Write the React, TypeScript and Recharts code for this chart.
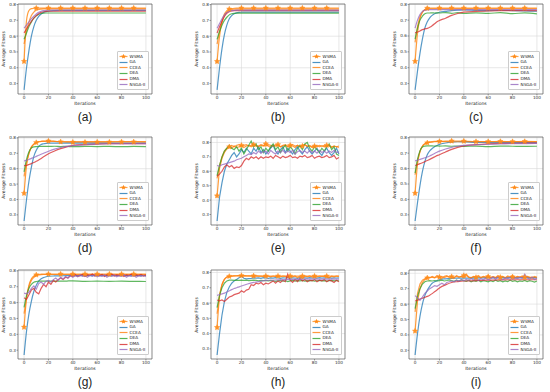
import React from 'react';
import { LineChart, Line, XAxis, YAxis, CartesianGrid, ReferenceArea } from 'recharts';

// sparse grid for smooth curves, dense grid for noisy ones
const XS = [0, 2, 4, 6, 8, 10, 12, 14, 16, 18, 20, 25, 30, 35, 40, 50, 60, 70, 80, 90, 100];
const XN = [
  0, 2, 4, 6, 8, 10, 12, 14, 16, 18,
  20, 22, 24, 26, 28, 30, 32, 34, 36, 38,
  40, 42, 44, 46, 48, 50, 52, 54, 56, 58,
  60, 62, 64, 66, 68, 70, 72, 74, 76, 78,
  80, 82, 84, 86, 88, 90, 92, 94, 96, 98,
  100,
];

const SERIES = ['WSMA', 'GA', 'CCEA', 'DEA', 'DMA', 'NSGA-II'];
const COLORS = ['#ff8c1a', '#1f77b4', '#ff7f0e', '#2ca02c', '#d62728', '#9467bd'];
const X_TICKS = [0, 20, 40, 60, 80, 100];
const Y_TICKS = [0.3, 0.4, 0.5, 0.6, 0.7, 0.8];

// (a)
const A_WSMA = [0.44, 0.70, 0.762, 0.774, 0.776, 0.777, 0.777, 0.777, 0.777, 0.777, 0.777, 0.777, 0.777, 0.777, 0.777, 0.777, 0.777, 0.777, 0.777, 0.777, 0.777];
const A_GA = [0.26, 0.40, 0.51, 0.60, 0.66, 0.70, 0.725, 0.74, 0.75, 0.755, 0.758, 0.761, 0.762, 0.762, 0.762, 0.762, 0.762, 0.762, 0.762, 0.762, 0.762];
const A_CCEA = [0.55, 0.63, 0.69, 0.73, 0.752, 0.764, 0.769, 0.771, 0.772, 0.772, 0.772, 0.772, 0.772, 0.772, 0.772, 0.772, 0.772, 0.772, 0.772, 0.772, 0.772];
const A_DEA = [0.58, 0.62, 0.66, 0.69, 0.713, 0.728, 0.738, 0.743, 0.745, 0.746, 0.746, 0.746, 0.746, 0.746, 0.746, 0.746, 0.746, 0.746, 0.746, 0.746, 0.746];
const A_DMA = [0.62, 0.645, 0.67, 0.693, 0.713, 0.73, 0.742, 0.75, 0.754, 0.756, 0.757, 0.758, 0.758, 0.758, 0.758, 0.758, 0.758, 0.758, 0.758, 0.758, 0.758];
const A_NSGA = [0.65, 0.67, 0.69, 0.71, 0.726, 0.74, 0.75, 0.757, 0.761, 0.763, 0.764, 0.765, 0.765, 0.765, 0.765, 0.765, 0.765, 0.765, 0.765, 0.765, 0.765];

// (b)
const B_WSMA = [0.44, 0.60, 0.69, 0.74, 0.762, 0.772, 0.775, 0.777, 0.778, 0.778, 0.778, 0.778, 0.778, 0.778, 0.778, 0.778, 0.778, 0.778, 0.778, 0.778, 0.778];
const B_GA = [0.26, 0.40, 0.52, 0.61, 0.67, 0.71, 0.73, 0.742, 0.748, 0.751, 0.752, 0.753, 0.753, 0.753, 0.753, 0.753, 0.753, 0.753, 0.753, 0.753, 0.753];
const B_CCEA = [0.55, 0.63, 0.69, 0.73, 0.752, 0.764, 0.769, 0.771, 0.772, 0.772, 0.772, 0.772, 0.772, 0.772, 0.772, 0.772, 0.772, 0.772, 0.772, 0.772, 0.772];
const B_DEA = [0.58, 0.63, 0.67, 0.70, 0.72, 0.735, 0.742, 0.745, 0.746, 0.746, 0.746, 0.746, 0.746, 0.746, 0.746, 0.746, 0.746, 0.746, 0.746, 0.746, 0.746];
const B_DMA = [0.62, 0.66, 0.695, 0.725, 0.745, 0.755, 0.76, 0.762, 0.762, 0.762, 0.762, 0.762, 0.762, 0.762, 0.762, 0.762, 0.762, 0.762, 0.762, 0.762, 0.762];
const B_NSGA = [0.65, 0.68, 0.71, 0.735, 0.75, 0.758, 0.762, 0.764, 0.765, 0.765, 0.765, 0.765, 0.765, 0.765, 0.765, 0.765, 0.765, 0.765, 0.765, 0.765, 0.765];

// (c)
const C_WSMA = [0.44, 0.62, 0.71, 0.75, 0.768, 0.775, 0.776, 0.776, 0.776, 0.776, 0.776, 0.776, 0.776, 0.776, 0.776, 0.776, 0.776, 0.776, 0.776, 0.776, 0.776];
const C_GA = [0.26, 0.38, 0.49, 0.58, 0.65, 0.69, 0.715, 0.73, 0.74, 0.745, 0.75, 0.755, 0.76, 0.763, 0.765, 0.762, 0.76, 0.762, 0.76, 0.758, 0.756];
const C_CCEA = [0.56, 0.66, 0.72, 0.75, 0.765, 0.77, 0.772, 0.772, 0.772, 0.772, 0.772, 0.772, 0.772, 0.772, 0.772, 0.772, 0.772, 0.772, 0.772, 0.772, 0.772];
const C_DEA = [0.58, 0.65, 0.70, 0.725, 0.74, 0.745, 0.745, 0.746, 0.745, 0.746, 0.745, 0.748, 0.743, 0.747, 0.742, 0.746, 0.743, 0.747, 0.741, 0.746, 0.74];
const C_DMA = [0.62, 0.625, 0.632, 0.64, 0.645, 0.648, 0.655, 0.665, 0.677, 0.69, 0.698, 0.712, 0.73, 0.742, 0.75, 0.755, 0.758, 0.76, 0.76, 0.76, 0.76];
const C_NSGA = [0.65, 0.70, 0.735, 0.755, 0.762, 0.765, 0.766, 0.766, 0.766, 0.766, 0.766, 0.766, 0.766, 0.766, 0.766, 0.766, 0.766, 0.766, 0.766, 0.766, 0.766];

// (d)
const D_WSMA = [0.44, 0.62, 0.70, 0.74, 0.76, 0.77, 0.775, 0.778, 0.779, 0.78, 0.78, 0.778, 0.775, 0.773, 0.772, 0.772, 0.773, 0.773, 0.774, 0.774, 0.773];
const D_GA = [0.26, 0.40, 0.52, 0.61, 0.68, 0.72, 0.745, 0.757, 0.762, 0.765, 0.766, 0.766, 0.766, 0.766, 0.766, 0.766, 0.766, 0.766, 0.766, 0.766, 0.766];
const D_CCEA = [0.55, 0.64, 0.70, 0.74, 0.76, 0.77, 0.775, 0.777, 0.778, 0.778, 0.778, 0.777, 0.776, 0.776, 0.776, 0.776, 0.776, 0.776, 0.776, 0.776, 0.776];
const D_DEA = [0.58, 0.66, 0.71, 0.735, 0.742, 0.744, 0.745, 0.745, 0.745, 0.745, 0.745, 0.746, 0.744, 0.745, 0.743, 0.745, 0.744, 0.745, 0.743, 0.745, 0.744];
const D_DMA = [0.62, 0.622, 0.627, 0.633, 0.64, 0.648, 0.657, 0.667, 0.677, 0.687, 0.697, 0.715, 0.73, 0.742, 0.752, 0.757, 0.76, 0.762, 0.762, 0.763, 0.762];
const D_NSGA = [0.65, 0.655, 0.66, 0.667, 0.673, 0.68, 0.687, 0.694, 0.70, 0.707, 0.713, 0.727, 0.738, 0.745, 0.75, 0.756, 0.76, 0.762, 0.763, 0.763, 0.763];

// (e)
const E_WSMA = [
  0.43, 0.62, 0.69, 0.73, 0.755, 0.77, 0.76, 0.775, 0.765, 0.77,
  0.78, 0.765, 0.775, 0.78, 0.77, 0.785, 0.775, 0.77, 0.78, 0.775,
  0.79, 0.775, 0.765, 0.78, 0.775, 0.785, 0.77, 0.775, 0.78, 0.77,
  0.78, 0.775, 0.765, 0.78, 0.77, 0.775, 0.785, 0.77, 0.775, 0.765,
  0.775, 0.77, 0.78, 0.775, 0.77, 0.78, 0.775, 0.765, 0.775, 0.77,
  0.775,
];
const E_GA = [
  0.255, 0.42, 0.52, 0.60, 0.65, 0.68, 0.71, 0.73, 0.70, 0.72,
  0.75, 0.73, 0.76, 0.74, 0.72, 0.76, 0.74, 0.77, 0.73, 0.75,
  0.72, 0.74, 0.76, 0.78, 0.74, 0.72, 0.75, 0.77, 0.73, 0.76,
  0.74, 0.72, 0.75, 0.77, 0.74, 0.72, 0.75, 0.77, 0.74, 0.72,
  0.74, 0.76, 0.73, 0.71, 0.74, 0.76, 0.73, 0.71, 0.73, 0.76,
  0.72,
];
const E_CCEA = [
  0.55, 0.64, 0.70, 0.74, 0.76, 0.77, 0.78, 0.77, 0.78, 0.785,
  0.775, 0.78, 0.785, 0.775, 0.78, 0.785, 0.78, 0.775, 0.785, 0.78,
  0.775, 0.785, 0.78, 0.775, 0.785, 0.78, 0.77, 0.78, 0.785, 0.775,
  0.78, 0.785, 0.775, 0.78, 0.77, 0.78, 0.785, 0.775, 0.78, 0.77,
  0.775, 0.78, 0.77, 0.775, 0.78, 0.775, 0.78, 0.77, 0.775, 0.77,
  0.765,
];
const E_DEA = [
  0.57, 0.64, 0.70, 0.74, 0.76, 0.78, 0.76, 0.75, 0.77, 0.74,
  0.76, 0.72, 0.75, 0.78, 0.81, 0.77, 0.79, 0.75, 0.77, 0.73,
  0.76, 0.74, 0.77, 0.79, 0.75, 0.77, 0.73, 0.76, 0.78, 0.74,
  0.77, 0.75, 0.72, 0.76, 0.78, 0.75, 0.79, 0.80, 0.76, 0.74,
  0.77, 0.75, 0.73, 0.76, 0.74, 0.77, 0.79, 0.75, 0.77, 0.72,
  0.71,
];
const E_DMA = [
  0.565, 0.58, 0.60, 0.63, 0.645, 0.63, 0.64, 0.62, 0.63, 0.625,
  0.64, 0.67, 0.69, 0.68, 0.70, 0.69, 0.70, 0.685, 0.70, 0.69,
  0.70, 0.695, 0.705, 0.69, 0.71, 0.70, 0.69, 0.705, 0.695, 0.70,
  0.71, 0.695, 0.70, 0.69, 0.705, 0.70, 0.71, 0.695, 0.70, 0.71,
  0.69, 0.70, 0.705, 0.695, 0.70, 0.71, 0.695, 0.70, 0.71, 0.685,
  0.695,
];
const E_NSGA = [
  0.64, 0.635, 0.645, 0.65, 0.655, 0.66, 0.665, 0.67, 0.68, 0.685,
  0.69, 0.70, 0.71, 0.72, 0.715, 0.73, 0.72, 0.74, 0.725, 0.735,
  0.74, 0.72, 0.745, 0.73, 0.72, 0.74, 0.73, 0.745, 0.725, 0.74,
  0.73, 0.745, 0.72, 0.735, 0.745, 0.73, 0.74, 0.725, 0.745, 0.73,
  0.74, 0.725, 0.745, 0.73, 0.74, 0.725, 0.74, 0.73, 0.745, 0.73,
  0.735,
];

// (f)
const F_WSMA = [0.44, 0.63, 0.71, 0.745, 0.76, 0.767, 0.77, 0.772, 0.774, 0.775, 0.776, 0.778, 0.779, 0.779, 0.778, 0.775, 0.775, 0.776, 0.775, 0.776, 0.775];
const F_GA = [0.26, 0.38, 0.49, 0.58, 0.645, 0.69, 0.715, 0.73, 0.742, 0.75, 0.757, 0.766, 0.772, 0.774, 0.773, 0.77, 0.769, 0.768, 0.768, 0.768, 0.768];
const F_CCEA = [0.56, 0.65, 0.71, 0.745, 0.762, 0.77, 0.773, 0.775, 0.776, 0.776, 0.776, 0.775, 0.774, 0.774, 0.774, 0.774, 0.774, 0.774, 0.774, 0.774, 0.774];
const F_DEA = [0.57, 0.66, 0.715, 0.74, 0.746, 0.747, 0.747, 0.747, 0.746, 0.747, 0.746, 0.747, 0.745, 0.746, 0.744, 0.746, 0.743, 0.746, 0.745, 0.744, 0.745];
const F_DMA = [0.62, 0.625, 0.632, 0.638, 0.645, 0.652, 0.66, 0.668, 0.676, 0.684, 0.69, 0.708, 0.725, 0.738, 0.747, 0.755, 0.76, 0.763, 0.764, 0.765, 0.765];
const F_NSGA = [0.65, 0.655, 0.66, 0.665, 0.67, 0.675, 0.682, 0.69, 0.698, 0.706, 0.713, 0.727, 0.738, 0.745, 0.75, 0.755, 0.758, 0.76, 0.762, 0.762, 0.763];

// (g)
const G_WSMA = [0.445, 0.63, 0.71, 0.75, 0.768, 0.775, 0.778, 0.779, 0.78, 0.78, 0.78, 0.78, 0.78, 0.78, 0.78, 0.78, 0.78, 0.78, 0.78, 0.78, 0.78];
const G_GA = [0.27, 0.42, 0.53, 0.61, 0.67, 0.71, 0.735, 0.75, 0.758, 0.763, 0.766, 0.768, 0.769, 0.77, 0.77, 0.77, 0.77, 0.77, 0.77, 0.77, 0.77];
const G_CCEA = [0.53, 0.63, 0.70, 0.74, 0.76, 0.77, 0.774, 0.776, 0.777, 0.777, 0.777, 0.777, 0.777, 0.777, 0.777, 0.777, 0.777, 0.777, 0.777, 0.777, 0.777];
const G_DEA = [0.57, 0.645, 0.69, 0.715, 0.728, 0.733, 0.735, 0.735, 0.735, 0.735, 0.735, 0.735, 0.735, 0.736, 0.737, 0.734, 0.735, 0.734, 0.735, 0.734, 0.733];
const G_DMA = [
  0.63, 0.62, 0.65, 0.68, 0.69, 0.665, 0.655, 0.69, 0.715, 0.70,
  0.73, 0.715, 0.74, 0.73, 0.745, 0.755, 0.745, 0.76, 0.755, 0.77,
  0.765, 0.775, 0.765, 0.77, 0.778, 0.765, 0.775, 0.77, 0.78, 0.768,
  0.775, 0.77, 0.778, 0.765, 0.775, 0.77, 0.78, 0.768, 0.775, 0.77,
  0.778, 0.765, 0.775, 0.77, 0.78, 0.768, 0.775, 0.77, 0.778, 0.768,
  0.775,
];
const G_NSGA = [
  0.66, 0.655, 0.665, 0.69, 0.705, 0.685, 0.72, 0.73, 0.715, 0.735,
  0.74, 0.73, 0.745, 0.755, 0.74, 0.76, 0.75, 0.765, 0.755, 0.77,
  0.76, 0.77, 0.762, 0.775, 0.765, 0.77, 0.76, 0.772, 0.765, 0.775,
  0.762, 0.77, 0.765, 0.775, 0.76, 0.77, 0.765, 0.775, 0.762, 0.77,
  0.765, 0.775, 0.76, 0.77, 0.765, 0.772, 0.76, 0.77, 0.765, 0.772,
  0.765,
];

// (h)
const H_WSMA = [0.44, 0.64, 0.72, 0.755, 0.77, 0.775, 0.777, 0.778, 0.779, 0.78, 0.78, 0.779, 0.778, 0.777, 0.777, 0.777, 0.777, 0.777, 0.777, 0.777, 0.777];
const H_GA = [
  0.26, 0.40, 0.52, 0.61, 0.67, 0.705, 0.73, 0.745, 0.755, 0.765,
  0.775, 0.762, 0.758, 0.76, 0.762, 0.765, 0.763, 0.765, 0.762, 0.766,
  0.764, 0.762, 0.765, 0.763, 0.766, 0.764, 0.762, 0.765, 0.764, 0.766,
  0.763, 0.765, 0.764, 0.762, 0.766, 0.764, 0.765, 0.763, 0.766, 0.764,
  0.765, 0.763, 0.766, 0.764, 0.765, 0.764, 0.766, 0.763, 0.765, 0.764,
  0.765,
];
const H_CCEA = [
  0.53, 0.65, 0.72, 0.755, 0.77, 0.775, 0.777, 0.778, 0.778, 0.778,
  0.777, 0.778, 0.776, 0.778, 0.777, 0.775, 0.778, 0.776, 0.777, 0.775,
  0.778, 0.776, 0.772, 0.777, 0.774, 0.776, 0.772, 0.777, 0.775, 0.768,
  0.776, 0.772, 0.777, 0.765, 0.775, 0.76, 0.777, 0.772, 0.778, 0.77,
  0.776, 0.772, 0.777, 0.775, 0.776, 0.773, 0.765, 0.776, 0.772, 0.777,
  0.775,
];
const H_DEA = [
  0.57, 0.65, 0.70, 0.73, 0.745, 0.75, 0.75, 0.748, 0.75, 0.749,
  0.75, 0.748, 0.75, 0.747, 0.749, 0.75, 0.748, 0.746, 0.749, 0.747,
  0.748, 0.745, 0.748, 0.746, 0.742, 0.745, 0.748, 0.743, 0.746, 0.74,
  0.745, 0.748, 0.744, 0.747, 0.745, 0.748, 0.744, 0.747, 0.745, 0.748,
  0.744, 0.746, 0.748, 0.745, 0.747, 0.744, 0.746, 0.748, 0.745, 0.747,
  0.746,
];
const H_DMA = [
  0.62, 0.615, 0.62, 0.61, 0.625, 0.64, 0.645, 0.655, 0.66, 0.665,
  0.68, 0.67, 0.685, 0.69, 0.72, 0.715, 0.73, 0.725, 0.735, 0.72,
  0.73, 0.725, 0.735, 0.745, 0.73, 0.745, 0.735, 0.75, 0.74, 0.79,
  0.75, 0.735, 0.755, 0.74, 0.76, 0.745, 0.755, 0.74, 0.75, 0.745,
  0.755, 0.74, 0.75, 0.745, 0.755, 0.74, 0.75, 0.745, 0.735, 0.75,
  0.74,
];
const H_NSGA = [0.65, 0.655, 0.66, 0.665, 0.672, 0.68, 0.688, 0.695, 0.70, 0.706, 0.712, 0.725, 0.735, 0.742, 0.748, 0.752, 0.755, 0.756, 0.757, 0.757, 0.757];

// (i)
const I_WSMA = [
  0.425, 0.62, 0.70, 0.74, 0.76, 0.77, 0.772, 0.775, 0.77, 0.776,
  0.775, 0.778, 0.772, 0.78, 0.775, 0.778, 0.774, 0.779, 0.775, 0.78,
  0.785, 0.795, 0.775, 0.772, 0.776, 0.773, 0.777, 0.772, 0.776, 0.774,
  0.778, 0.773, 0.776, 0.772, 0.778, 0.774, 0.777, 0.772, 0.776, 0.773,
  0.777, 0.772, 0.776, 0.773, 0.777, 0.774, 0.777, 0.772, 0.775, 0.773,
  0.776,
];
const I_GA = [0.27, 0.41, 0.52, 0.60, 0.655, 0.69, 0.715, 0.735, 0.745, 0.752, 0.758, 0.764, 0.767, 0.768, 0.769, 0.769, 0.77, 0.77, 0.77, 0.77, 0.77];
const I_CCEA = [
  0.55, 0.67, 0.73, 0.755, 0.765, 0.775, 0.77, 0.78, 0.772, 0.785,
  0.775, 0.768, 0.78, 0.785, 0.775, 0.78, 0.77, 0.785, 0.775, 0.78,
  0.772, 0.785, 0.775, 0.77, 0.78, 0.775, 0.785, 0.772, 0.78, 0.775,
  0.785, 0.77, 0.778, 0.772, 0.785, 0.775, 0.78, 0.77, 0.782, 0.776,
  0.785, 0.772, 0.78, 0.775, 0.783, 0.772, 0.78, 0.775, 0.768, 0.78,
  0.772,
];
const I_DEA = [
  0.57, 0.65, 0.70, 0.73, 0.745, 0.75, 0.752, 0.75, 0.753, 0.75,
  0.752, 0.755, 0.75, 0.753, 0.757, 0.752, 0.748, 0.755, 0.75, 0.757,
  0.752, 0.748, 0.755, 0.745, 0.752, 0.748, 0.755, 0.745, 0.752, 0.748,
  0.744, 0.752, 0.746, 0.755, 0.748, 0.752, 0.744, 0.75, 0.746, 0.755,
  0.748, 0.752, 0.745, 0.75, 0.748, 0.754, 0.746, 0.752, 0.748, 0.743,
  0.75,
];
const I_DMA = [0.62, 0.625, 0.632, 0.638, 0.644, 0.65, 0.658, 0.668, 0.68, 0.692, 0.705, 0.725, 0.74, 0.746, 0.75, 0.752, 0.755, 0.757, 0.758, 0.758, 0.758];
const I_NSGA = [
  0.655, 0.64, 0.625, 0.645, 0.67, 0.685, 0.70, 0.71, 0.72, 0.715,
  0.725, 0.735, 0.725, 0.74, 0.745, 0.75, 0.745, 0.755, 0.75, 0.758,
  0.752, 0.76, 0.755, 0.765, 0.757, 0.762, 0.755, 0.765, 0.758, 0.768,
  0.757, 0.765, 0.775, 0.76, 0.775, 0.765, 0.758, 0.77, 0.765, 0.775,
  0.762, 0.77, 0.765, 0.775, 0.768, 0.795, 0.77, 0.762, 0.775, 0.76,
  0.768,
];

const MT = 4, MR = 3, YW = 18, XH = 10;
const FONT = '"DejaVu Sans", sans-serif';

const pts = (grid: number[], ys: number[]) => grid.map((x, i) => ({ x, y: ys[i] }));

const panels = [
  { tag: '(a)', left: 18, top: 4, h: 90, lines: [pts(XS, A_WSMA), pts(XS, A_GA), pts(XS, A_CCEA), pts(XS, A_DEA), pts(XS, A_DMA), pts(XS, A_NSGA)] },
  { tag: '(b)', left: 211, top: 4, h: 90, lines: [pts(XS, B_WSMA), pts(XS, B_GA), pts(XS, B_CCEA), pts(XS, B_DEA), pts(XS, B_DMA), pts(XS, B_NSGA)] },
  { tag: '(c)', left: 409, top: 4, h: 90, lines: [pts(XS, C_WSMA), pts(XS, C_GA), pts(XS, C_CCEA), pts(XS, C_DEA), pts(XS, C_DMA), pts(XS, C_NSGA)] },
  { tag: '(d)', left: 18, top: 137, h: 88, lines: [pts(XS, D_WSMA), pts(XS, D_GA), pts(XS, D_CCEA), pts(XS, D_DEA), pts(XS, D_DMA), pts(XS, D_NSGA)] },
  { tag: '(e)', left: 211, top: 137, h: 88, lines: [pts(XN, E_WSMA), pts(XN, E_GA), pts(XN, E_CCEA), pts(XN, E_DEA), pts(XN, E_DMA), pts(XN, E_NSGA)] },
  { tag: '(f)', left: 409, top: 137, h: 88, lines: [pts(XS, F_WSMA), pts(XS, F_GA), pts(XS, F_CCEA), pts(XS, F_DEA), pts(XS, F_DMA), pts(XS, F_NSGA)] },
  { tag: '(g)', left: 18, top: 270, h: 89, lines: [pts(XS, G_WSMA), pts(XS, G_GA), pts(XS, G_CCEA), pts(XS, G_DEA), pts(XN, G_DMA), pts(XN, G_NSGA)] },
  { tag: '(h)', left: 211, top: 270, h: 89, lines: [pts(XS, H_WSMA), pts(XN, H_GA), pts(XN, H_CCEA), pts(XN, H_DEA), pts(XN, H_DMA), pts(XS, H_NSGA)] },
  { tag: '(i)', left: 409, top: 270, h: 89, lines: [pts(XN, I_WSMA), pts(XS, I_GA), pts(XN, I_CCEA), pts(XN, I_DEA), pts(XS, I_DMA), pts(XN, I_NSGA)] },
];
const W = 134;

const starPoints = (cx: number, cy: number, r: number) => {
  const out: string[] = [];
  for (let k = 0; k < 10; k++) {
    const rr = k % 2 === 0 ? r : r * 0.5;
    const a = -Math.PI / 2 + (k * Math.PI) / 5;
    out.push(`${cx + rr * Math.cos(a)},${cy + rr * Math.sin(a)}`);
  }
  return out.join(' ');
};

// WSMA markers every 10 iterations
const StarDot = (props: any) => {
  const { cx, cy, payload, index } = props;
  if (payload.x % 10 !== 0 || payload.x > 90) return <g key={index} />;
  return <polygon key={index} points={starPoints(cx, cy, 2.8)} fill={COLORS[0]} fillOpacity={0.9} stroke={COLORS[0]} strokeWidth={0.4} />;
};

function LegendBox() {
  return (
    <div style={{ position: 'absolute', right: 0, bottom: 0, width: 28, padding: '1.5px 1px', background: 'rgba(255,255,255,0.85)', border: '0.5px solid #ccc', borderRadius: 1, fontFamily: FONT, fontSize: 4.2, color: '#222' }}>
      {SERIES.map((name, i) => (
        <div key={name} style={{ display: 'flex', alignItems: 'center', height: 5.6 }}>
          <svg width={9} height={5} style={{ marginRight: 1.5, flex: 'none' }}>
            <line x1={0.5} y1={2.5} x2={8.5} y2={2.5} stroke={COLORS[i]} strokeWidth={1.2} strokeOpacity={0.8} />
            {i === 0 && <polygon points={starPoints(4.5, 2.5, 2.6)} fill={COLORS[0]} />}
          </svg>
          <span style={{ whiteSpace: 'nowrap', lineHeight: 1 }}>{name}</span>
        </div>
      ))}
    </div>
  );
}

function Panel({ p }: { p: (typeof panels)[number] }) {
  const all = p.lines.flatMap((l) => l.map((d) => d.y));
  const lo = Math.min(...all);
  const hi = Math.max(...all);
  const pad = (hi - lo) * 0.05;
  const domain: [number, number] = [lo - pad, hi + pad];
  const cw = YW + W + MR;
  const ch = MT + p.h + XH;
  const tick = { fontSize: 4.2, fill: '#333', fontFamily: FONT };
  return (
    <div style={{ position: 'absolute', left: p.left - YW, top: p.top - MT, width: cw, height: ch + 32 }}>
      <LineChart width={cw} height={ch} margin={{ top: MT, right: MR, bottom: 0, left: 0 }}>
        <CartesianGrid stroke="#d9d9d9" strokeWidth={0.6} />
        <XAxis type="number" dataKey="x" domain={[-5, 105]} ticks={X_TICKS} height={XH} tick={tick} tickSize={1.5} tickMargin={0.5} axisLine={false} tickLine={{ stroke: '#444', strokeWidth: 0.5 }} allowDataOverflow />
        <YAxis type="number" dataKey="y" domain={domain} ticks={Y_TICKS} width={YW} tick={tick} tickSize={1.5} tickMargin={0.5} axisLine={false} tickLine={{ stroke: '#444', strokeWidth: 0.5 }} tickFormatter={(v: number) => v.toFixed(1)} allowDataOverflow />
        <ReferenceArea x1={-5} x2={105} y1={domain[0]} y2={domain[1]} fill="none" stroke="#555" strokeWidth={0.6} ifOverflow="visible" />
        {p.lines.map((data, i) => (
          <Line
            key={SERIES[i]}
            data={data}
            dataKey="y"
            name={SERIES[i]}
            type={data.length > 30 ? 'linear' : 'monotone'}
            stroke={COLORS[i]}
            strokeWidth={1.2}
            strokeOpacity={i === 0 ? 0.85 : 0.75}
            dot={i === 0 ? StarDot : false}
            activeDot={false}
            isAnimationActive={false}
          />
        ))}
      </LineChart>
      <div style={{ position: 'absolute', left: YW + W - 3 - 30, top: MT + p.h - 4 - 37, width: 30, height: 37 }}>
        <LegendBox />
      </div>
      <div style={{ position: 'absolute', left: YW - 15, top: MT + p.h / 2, transform: 'translate(-50%, -50%) rotate(-90deg)', whiteSpace: 'nowrap', fontFamily: FONT, fontSize: 4.5, color: '#222' }}>
        Average Fitness
      </div>
      <div style={{ position: 'absolute', left: YW + W / 2, top: MT + p.h + 9, transform: 'translate(-50%, -50%)', whiteSpace: 'nowrap', fontFamily: FONT, fontSize: 4.5, color: '#222' }}>
        Iterations
      </div>
      <div style={{ position: 'absolute', left: YW + W / 2, top: MT + p.h + 23, transform: 'translate(-50%, -50%)', whiteSpace: 'nowrap', fontFamily: '"Liberation Sans", Arial, sans-serif', fontSize: 12, color: '#222' }}>
        {p.tag}
      </div>
    </div>
  );
}

export default function App() {
  return (
    <div style={{ position: 'absolute', left: 0, top: 0, width: 550, height: 392, background: '#fff', overflow: 'hidden' }}>
      {panels.map((p) => (
        <Panel key={p.tag} p={p} />
      ))}
    </div>
  );
}
